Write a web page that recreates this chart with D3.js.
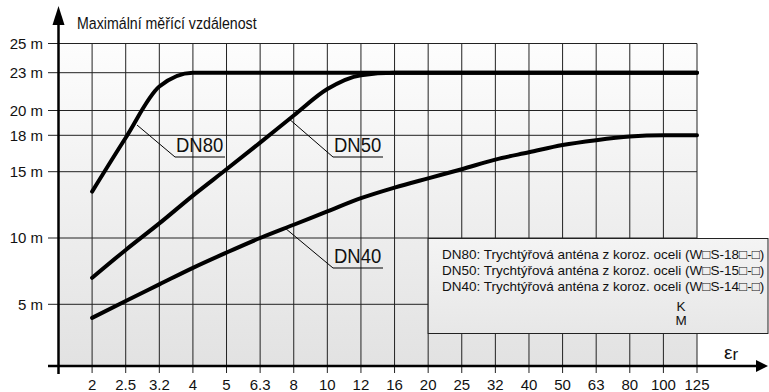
<!DOCTYPE html>
<html>
<head>
<meta charset="utf-8">
<script src="https://cdn.jsdelivr.net/npm/d3@7"></script>
<style>
  body { margin: 0; background: #fff; }
  text { font-family: "Liberation Sans", Arial, sans-serif; fill: #111; }
</style>
</head>
<body>
<div id="chart"></div>
<script>
// permittivity categories on the x axis
let cats = ["2", "2.5", "3.2", "4", "5", "6.3", "8", "10", "12", "16", "20", "25", "32", "40", "50", "63", "80", "100", "125"];
let yTicks = [5, 10, 15, 18, 20, 23, 25];
let yPix = [0, 5, 10, 15, 18, 20, 23, 25];

let dn80 = [13.5, 17.8, 21.9, 23, 23, 23, 23, 23, 23, 23, 23, 23, 23, 23, 23, 23, 23, 23, 23];
let dn50 = [7.0, 9.1, 11.1, 13.2, 15.2, 17.4, 19.6, 21.7, 22.8, 23, 23, 23, 23, 23, 23, 23, 23, 23, 23];
let dn40 = [3.9, 5.25, 6.5, 7.75, 8.9, 10.0, 11.0, 12.0, 13.0, 13.8, 14.5, 15.2, 16.0, 16.6, 17.2, 17.6, 17.9, 18, 18];

let legendLines = [
    "DN80: Trychtýřová anténa z koroz. oceli (W\u25A1S-18\u25A1-\u25A1)",
    "DN50: Trychtýřová anténa z koroz. oceli (W\u25A1S-15\u25A1-\u25A1)",
    "DN40: Trychtýřová anténa z koroz. oceli (W\u25A1S-14\u25A1-\u25A1)"
];

let W = 769, H = 392;
let pLeft = 58.5, pTop = 43.5, pBottom = 366, pRight = 697;

let svg = d3.select('#chart')
    .append('svg')
    .attr('width', W)
    .attr('height', H);

let x = d3.scalePoint().domain([""].concat(cats)).range([pLeft, pRight]);
// the drawing's y grid is not quite even, so map each labelled tick
let y = d3.scaleLinear()
    .domain(yPix)
    .range([366, 304.3, 238, 171.7, 135.3, 110.5, 72.7, 43.5]);

let defs = svg.append('defs');
let grad = defs.append('linearGradient').attr('id', 'bg')
    .attr('x1', 0).attr('y1', 0).attr('x2', 0).attr('y2', 1);
grad.append('stop').attr('offset', '0%').attr('stop-color', '#fdfdfd');
grad.append('stop').attr('offset', '100%').attr('stop-color', '#e2e2e2');

let grad2 = defs.append('linearGradient').attr('id', 'bg2')
    .attr('x1', 0).attr('y1', 0).attr('x2', 0).attr('y2', 1);
grad2.append('stop').attr('offset', '0%').attr('stop-color', '#f4f4f4');
grad2.append('stop').attr('offset', '100%').attr('stop-color', '#e7e7e7');

svg.append('rect')
    .attr('x', pLeft).attr('y', pTop)
    .attr('width', pRight - pLeft).attr('height', pBottom - pTop)
    .style('fill', 'url(#bg)');

// grid
svg.append('g').selectAll('line')
    .data(cats)
    .enter()
    .append('line')
    .attr('x1', d => x(d)).attr('x2', d => x(d))
    .attr('y1', pTop).attr('y2', pBottom + 7)
    .style('stroke', '#222').style('stroke-width', 1);

svg.append('g').selectAll('line')
    .data(yTicks)
    .enter()
    .append('line')
    .attr('x1', 48).attr('x2', pRight)
    .attr('y1', d => y(d)).attr('y2', d => y(d))
    .style('stroke', '#222').style('stroke-width', 1);

// y tick labels
svg.append('g').selectAll('text')
    .data(yTicks)
    .enter()
    .append('text')
    .attr('x', 43).attr('y', d => y(d))
    .attr('dy', '0.36em')
    .attr('text-anchor', 'end')
    .style('font-size', '15px')
    .text(d => d + ' m');

// x tick labels
svg.append('g').selectAll('text')
    .data(cats)
    .enter()
    .append('text')
    .attr('x', d => x(d)).attr('y', 390)
    .attr('text-anchor', 'middle')
    .style('font-size', '15px')
    .text(d => d);

// legend box
let lg = svg.append('g');
lg.append('rect')
    .attr('x', x("20")).attr('y', 238.5)
    .attr('width', 768 - x("20")).attr('height', 95)
    .style('fill', 'url(#bg2)')
    .style('stroke', '#222').style('stroke-width', 1);
lg.selectAll('text.leg')
    .data(legendLines)
    .enter()
    .append('text')
    .attr('class', 'leg')
    .attr('x', 442).attr('y', (d, i) => 258.5 + i * 16)
    .style('font-size', '13.5px')
    .text(d => d);
lg.append('text').attr('x', 681).attr('y', 311).attr('text-anchor', 'middle')
    .style('font-size', '13.5px').text('K');
lg.append('text').attr('x', 681).attr('y', 325).attr('text-anchor', 'middle')
    .style('font-size', '13.5px').text('M');

// axes
svg.append('line')
    .attr('x1', pLeft).attr('x2', pLeft).attr('y1', 22).attr('y2', 374)
    .style('stroke', '#000').style('stroke-width', 2.5);
svg.append('path')
    .attr('d', 'M' + pLeft + ',6 L' + (pLeft + 6) + ',25 L' + (pLeft - 6) + ',25 Z')
    .style('fill', '#000');
svg.append('line')
    .attr('x1', 48).attr('x2', 758).attr('y1', pBottom).attr('y2', pBottom)
    .style('stroke', '#000').style('stroke-width', 2.5);
svg.append('path')
    .attr('d', 'M768,' + pBottom + ' L756,' + (pBottom - 6) + ' L756,' + (pBottom + 6) + ' Z')
    .style('fill', '#000');

svg.append('text')
    .attr('transform', 'translate(77,29) scale(0.86,1)')
    .style('font-size', '16.5px')
    .text('Maximální měřící vzdálenost');

let er = svg.append('text').attr('x', 724).attr('y', 359).style('font-size', '19px');
er.append('tspan').text('\u03B5');
er.append('tspan').style('font-size', '17px').attr('dy', 1).text('r');

// curves
let line = d3.line()
    .x((d, i) => x(cats[i]))
    .y(d => y(d))
    .curve(d3.curveMonotoneX);

let series = [dn80, dn50, dn40];
svg.append('g').selectAll('path')
    .data(series)
    .enter()
    .append('path')
    .attr('d', d => line(d))
    .style('fill', 'none')
    .style('stroke', '#000')
    .style('stroke-width', 4)
    .style('stroke-linecap', 'round');

// curve labels with leader lines
let labels = [
    { name: "DN80", px: 137, py: 125, lx: 175, ly: 157, ex: 225 },
    { name: "DN50", px: 288, py: 118, lx: 333, ly: 157, ex: 383 },
    { name: "DN40", px: 285, py: 228, lx: 333, ly: 268, ex: 383 }
];
let lab = svg.append('g').selectAll('g')
    .data(labels)
    .enter()
    .append('g');
lab.append('polyline')
    .attr('points', d => [d.px, d.py, d.lx, d.ly, d.ex, d.ly].join(','))
    .style('fill', 'none').style('stroke', '#000').style('stroke-width', 1);
lab.append('text')
    .attr('transform', d => 'translate(' + (d.lx + 1) + ',' + (d.ly - 5) + ') scale(0.9,1)')
    .style('font-size', '20.5px')
    .text(d => d.name);
</script>
</body>
</html>
